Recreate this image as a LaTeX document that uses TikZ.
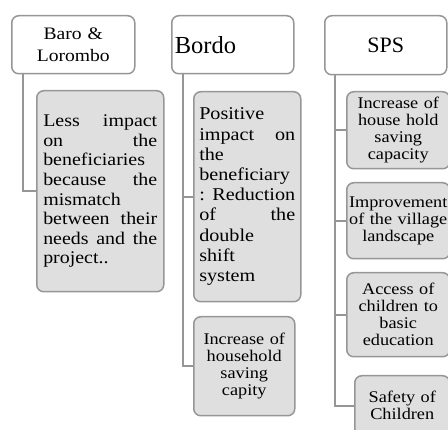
\documentclass[tikz,border=0pt]{standalone}
\usepackage{fontspec}
\setmainfont{Liberation Serif}
\newfontfamily\wide[FakeStretch=1.12]{Liberation Serif}
\definecolor{edgegray}{RGB}{150,150,150}
\definecolor{linkgray}{RGB}{150,150,150}
\definecolor{cellfill}{RGB}{223,223,223}
\newcommand\jline[1]{\noindent\hbox to\linewidth{#1}\par}
\newcommand\lline[1]{\noindent\hbox to\linewidth{#1\hfil}\par}
\tikzset{
  parentbox/.style={draw=edgegray, line width=1.5pt, rounded corners=7pt, fill=white,
    inner sep=0pt, anchor=north west},
  childbox/.style={draw=edgegray, line width=1.5pt, rounded corners=7pt, fill=cellfill,
    inner sep=0pt, anchor=north west},
  smalltext/.style={align=center, font=\wide\fontsize{16.3}{17}\selectfont},
  link/.style={draw=linkgray, line width=2.2pt},
}
\begin{document}
\begin{tikzpicture}[x=1pt,y=-1pt]
\useasboundingbox (0,0) rectangle (448,430);
\clip (0,0) rectangle (448,430);
% parents
\node[parentbox, minimum width=123pt, minimum height=58pt, text width=115pt, align=center,
  font=\wide\fontsize{17.5}{21.7}\selectfont] (baro) at (11,15) {Baro \&\\Lorombo};
\node[parentbox, minimum width=122pt, minimum height=58pt, text width=116pt, align=left,
  font=\fontsize{24.5}{28}\selectfont] (bordo) at (171,15) {Bordo};
\node[parentbox, minimum width=122pt, minimum height=59pt, text width=116pt, align=center,
  font=\fontsize{22}{26}\selectfont] (sps) at (324,15) {SPS};
% Baro child
\node[childbox, minimum width=127pt, minimum height=201pt, text width=114pt,
  font=\wide\fontsize{17.8}{19.6}\selectfont] (baroc) at (36,90) {%
  \jline{Less\hfill impact}\jline{on\hfill the}\lline{beneficiaries}%
  \jline{because\hfill the}\lline{mismatch}\jline{between\hfill their}%
  \jline{needs\hfill and\hfill the}\lline{project..}};
% Bordo children
\node[childbox, minimum width=107pt, minimum height=210pt, text width=96pt,
  font=\wide\fontsize{18}{20.2}\selectfont] (bordoc1) at (193,91) {%
  \lline{Positive}\jline{impact\hfill on}\lline{the}\lline{beneficiary}%
  \jline{:\hfill Reduction}\jline{of\hfill the}\lline{double}\lline{shift}\lline{system}};
\node[childbox, smalltext, minimum width=101pt, minimum height=99pt, text width=97pt]
  (bordoc2) at (193,316) {Increase of\\household\\saving\\capity};
% SPS children
\node[childbox, smalltext, minimum width=103pt, minimum height=77pt, text width=102pt]
  (spsc1) at (346,91) {Increase of\\house hold\\saving\\capacity};
\node[childbox, smalltext, minimum width=103pt, minimum height=76pt, text width=102pt]
  (spsc2) at (346,182) {Improvement\\of the village\\landscape};
\node[childbox, smalltext, minimum width=103pt, minimum height=84pt, text width=102pt]
  (spsc3) at (346,272) {Access of\\children to\\basic\\education};
\node[childbox, smalltext, minimum width=95pt, minimum height=60pt, text width=92pt]
  (spsc4) at (354,375) {Safety of\\Children};
% connectors
\draw[link] ([xshift=12pt]baro.south west) |- (baroc.west);
\draw[link] ([xshift=12pt]bordo.south west) |- (bordoc1.west);
\draw[link] ([xshift=12pt]bordo.south west) |- (bordoc2.west);
\draw[link] ([xshift=11pt]sps.south west) |- (spsc1.west);
\draw[link] ([xshift=11pt]sps.south west) |- (spsc2.west);
\draw[link] ([xshift=11pt]sps.south west) |- (spsc3.west);
\draw[link] ([xshift=11pt]sps.south west) |- (spsc4.west);
\end{tikzpicture}
\end{document}
